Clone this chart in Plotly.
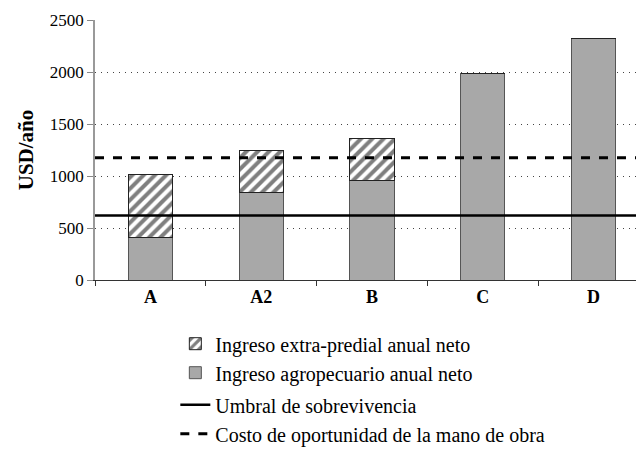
import plotly.graph_objects as go

categorias = ['A', 'A2', 'B', 'C', 'D']
ingreso_agro = [410, 845, 955, 1985, 2320]
ingreso_extra = [600, 405, 405, 0, 0]
umbral = [620, 620]
costo_oportunidad = [1175, 1175]
limites_x = [-0.5, 4.5]
ticks_y = [0, 500, 1000, 1500, 2000, 2500]

posiciones = list(range(len(categorias)))
fuente = 'Liberation Serif, Times New Roman, serif'

fig = go.Figure()

fig.add_trace(go.Bar(x=posiciones, y=ingreso_agro, name='Ingreso agropecuario anual neto',
                     width=0.4, marker=dict(color='#a8a8a8', line=dict(color='#555555', width=1)),
                     legendrank=2, legendgroup='barras'))
fig.add_trace(go.Bar(x=posiciones, y=ingreso_extra, name='Ingreso extra-predial anual neto',
                     width=0.4, marker=dict(color='white', line=dict(color='#222222', width=1),
                                            pattern=dict(shape='/', fgcolor='black', bgcolor='white',
                                                         size=8, solidity=0.5)),
                     legendrank=1, legendgroup='barras'))
fig.add_trace(go.Scatter(x=limites_x, y=umbral, mode='lines', name='Umbral de sobrevivencia',
                         line=dict(color='black', width=2.5), legendrank=3, legendgroup='lineas'))
fig.add_trace(go.Scatter(x=limites_x, y=costo_oportunidad, mode='lines',
                         name='Costo de oportunidad de la mano de obra',
                         line=dict(color='black', width=3, dash='dash'), legendrank=4,
                         legendgroup='lineas'))

fig.update_layout(
    width=644, height=457,
    barmode='stack',
    plot_bgcolor='white', paper_bgcolor='white',
    font=dict(family=fuente, color='black', size=16),
    margin=dict(l=87, r=3, t=7, b=185),
    showlegend=True,
    legend=dict(x=0.145, y=-0.17, xanchor='left', yanchor='top', traceorder='grouped',
                font=dict(family=fuente, size=20), bgcolor='rgba(0,0,0,0)', tracegroupgap=3),
    xaxis=dict(range=[-0.5, 4.5], tickmode='array', tickvals=posiciones,
               ticktext=['<b>' + c + '</b>' for c in categorias],
               tickfont=dict(family=fuente, size=18, color='black'), ticks='', showgrid=False,
               showline=True, linecolor='#333333', linewidth=1, zeroline=False,
               minor=dict(ticks='outside', tickvals=[-0.5, 0.5, 1.5, 2.5, 3.5], ticklen=5,
                          tickcolor='#333333', showgrid=False)),
    yaxis=dict(range=[0, 2500], tickmode='array', tickvals=ticks_y,
               tickfont=dict(family=fuente, size=17, color='black'), ticklabeloverflow='allow',
               ticks='outside', ticklen=6, tickcolor='#888888',
               showline=True, linecolor='#999999', linewidth=1.5, zeroline=False,
               showgrid=True, gridcolor='#444444', griddash='1px,5px', gridwidth=1,
               title=dict(text='<b>USD/año</b>', font=dict(family=fuente, size=21), standoff=10)),
)

fig.write_html("out.html")
